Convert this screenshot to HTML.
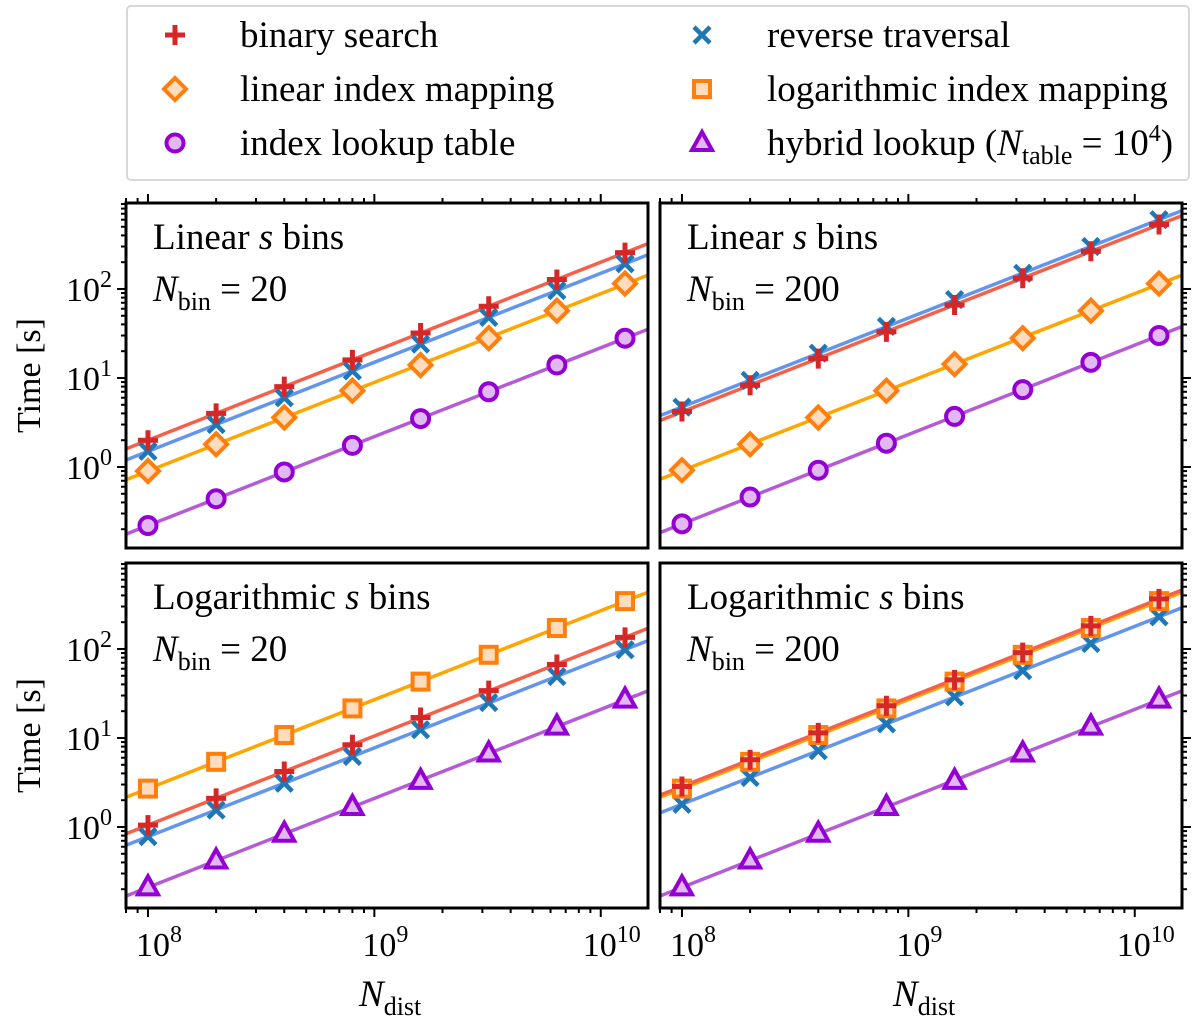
<!DOCTYPE html>
<html><head><meta charset="utf-8"><style>
html,body{margin:0;padding:0;background:#fff}
svg{display:block;font-family:"Liberation Serif",serif}
</style></head><body>
<svg id="chart" width="1200" height="1017" viewBox="0 0 1200 1017" xmlns="http://www.w3.org/2000/svg"></svg>
<script>
const xValues=[1e8,2e8,4e8,8e8,1.6e9,3.2e9,6.4e9,1.28e10];
// panel 1: linear 20
const p1Binary=[2.0,4.0,8.0,16,32,64,128,256];
const p1Reverse=[1.5,3.0,6.0,12,24,48,96,192];
const p1Linear=[0.9,1.8,3.6,7.2,14,28,57,115];
const p1Table=[0.22,0.44,0.88,1.75,3.5,7.0,14,28];
// panel 2: linear 200
const p2Binary=[4.2,8.3,16.5,33,66,132,265,530];
const p2Reverse=[4.7,9.4,19,38,76,150,300,600];
const p2Linear=[0.92,1.8,3.6,7.2,14.3,28,57,115];
const p2Table=[0.23,0.46,0.92,1.85,3.7,7.4,15,30];
// panel 3: log 20
const p3LogMap=[2.7,5.4,10.8,21.5,43,86,172,345];
const p3Binary=[1.05,2.1,4.2,8.4,17,34,67,135];
const p3Reverse=[0.78,1.55,3.1,6.2,12.4,25,49,98];
const p3Hybrid=[0.21,0.42,0.84,1.68,3.3,6.7,13.4,27];
// panel 4: log 200
const p4Binary=[2.85,5.7,11.4,23,45,91,182,365];
const p4LogMap=[2.7,5.4,10.8,21.5,43,86,172,345];
const p4Reverse=[1.8,3.6,7.2,14.4,29,57,115,230];
const p4Hybrid=[0.21,0.42,0.84,1.68,3.3,6.7,13.4,27];
const xTickVals=[1e8,1e9,1e10];
const xTickExp=["8","9","10"];
const yTickVals=[1,10,100];
const yTickExp=["0","1","2"];

const NS="http://www.w3.org/2000/svg";
const svg=document.getElementById('chart');
function mk(tag,attrs,parent){const e=document.createElementNS(NS,tag);for(const k in attrs)e.setAttribute(k,attrs[k]);(parent||svg).appendChild(e);return e;}

const S={
 binary:{line:"#f4604a",mc:"#d62728",m:"plus",fill:"none"},
 reverse:{line:"#6495ed",mc:"#1f77b4",m:"x",fill:"none"},
 linear:{line:"#ffa500",mc:"#ff7f0e",m:"diamond",fill:"#ffdcbc"},
 logmap:{line:"#ffa500",mc:"#ff7f0e",m:"square",fill:"#ffdcbc"},
 table:{line:"#b35cd6",mc:"#9400d3",m:"circle",fill:"#e2b8f2"},
 hybrid:{line:"#b35cd6",mc:"#9400d3",m:"triangle",fill:"#e2b8f2"}
};
function marker(g,type,cx,cy,st){
 const sw=4;
 if(type==="plus"){mk('path',{d:`M${cx-10},${cy}H${cx+10}M${cx},${cy-10}V${cy+10}`,stroke:st.mc,'stroke-width':5,fill:'none'},g);}
 else if(type==="x"){mk('path',{d:`M${cx-8},${cy-8}L${cx+8},${cy+8}M${cx-8},${cy+8}L${cx+8},${cy-8}`,stroke:st.mc,'stroke-width':4.5,fill:'none'},g);}
 else if(type==="diamond"){mk('path',{d:`M${cx},${cy-11}L${cx+11},${cy}L${cx},${cy+11}L${cx-11},${cy}Z`,stroke:st.mc,'stroke-width':sw,fill:st.fill},g);}
 else if(type==="square"){mk('rect',{x:cx-8,y:cy-8,width:16,height:16,stroke:st.mc,'stroke-width':sw,fill:st.fill},g);}
 else if(type==="circle"){mk('circle',{cx:cx,cy:cy,r:8.5,stroke:st.mc,'stroke-width':sw,fill:st.fill},g);}
 else if(type==="triangle"){mk('path',{d:`M${cx},${cy-11}L${cx+10},${cy+7}L${cx-10},${cy+7}Z`,stroke:st.mc,'stroke-width':sw,fill:st.fill,'stroke-linejoin':'miter'},g);}
}

const XL0=7.903, XL1=10.2087;
const YL0=-0.91, YL1=2.966;
const FS=37, SUB=26, TFS=34, SUP=24;
const panels=[
 {x:126,y:203,title:"Linear ",nb:"20",series:[["linear",p1Linear],["table",p1Table],["reverse",p1Reverse],["binary",p1Binary]],left:true,top:true,name:"linear-20"},
 {x:660,y:203,title:"Linear ",nb:"200",series:[["linear",p2Linear],["table",p2Table],["reverse",p2Reverse],["binary",p2Binary]],left:false,top:true,name:"linear-200"},
 {x:126,y:563,title:"Logarithmic ",nb:"20",series:[["logmap",p3LogMap],["hybrid",p3Hybrid],["reverse",p3Reverse],["binary",p3Binary]],left:true,top:false,name:"log-20"},
 {x:660,y:563,title:"Logarithmic ",nb:"200",series:[["reverse",p4Reverse],["hybrid",p4Hybrid],["logmap",p4LogMap],["binary",p4Binary]],left:false,top:false,name:"log-200"}
];
const W=522,H=345;
panels.forEach((p,pi)=>{
 const g=mk('g',{});
 
 
 const xs=v=>p.x+(Math.log10(v)-XL0)/(XL1-XL0)*W;
 const ys=v=>p.y+H-(Math.log10(v)-YL0)/(YL1-YL0)*H;
 const cid='clip'+pi;
 const cp=mk('clipPath',{id:cid},g);mk('rect',{x:p.x,y:p.y,width:W,height:H},cp);
 p.series.forEach(([key,vals])=>{
  const st=S[key];
  const lx=xValues.map(Math.log10), ly=vals.map(Math.log10);
  const n=lx.length, mx=lx.reduce((a,b)=>a+b)/n, my=ly.reduce((a,b)=>a+b)/n;
  let sxy=0,sxx=0;for(let i=0;i<n;i++){sxy+=(lx[i]-mx)*(ly[i]-my);sxx+=(lx[i]-mx)**2;}
  const b=sxy/sxx,a=my-b*mx;
  const f=l=>Math.pow(10,a+b*l);
  const ln=mk('line',{x1:p.x-5,y1:ys(f(XL0-5/W*(XL1-XL0))),x2:p.x+W+5,y2:ys(f(XL1+5/W*(XL1-XL0))),stroke:st.line,'stroke-width':3.5,'clip-path':`url(#${cid})`},g);
  
  
 });
 p.series.forEach(([key,vals])=>{
  const st=S[key];
  const mg=mk('g',{'clip-path':`url(#${cid})`},g);
  
  
  vals.forEach((v,i)=>marker(mg,st.m,xs(xValues[i]),ys(v),st));
 });
 mk('rect',{x:p.x,y:p.y,width:W,height:H,fill:'none',stroke:'#000','stroke-width':3},g);
 const tk=mk('g',{stroke:'#000','stroke-width':2},g);
 
 
 for(let d=7;d<=10;d++)for(let m=1;m<10;m++){
  const v=m*Math.pow(10,d);const l=Math.log10(v);if(l<XL0||l>XL1)continue;
  const x=xs(v),len=m===1?9:5;
  if(p.top)mk('line',{x1:x,x2:x,y1:p.y,y2:p.y-len},tk);else mk('line',{x1:x,x2:x,y1:p.y+H,y2:p.y+H+len},tk);
 }
 for(let d=-1;d<=2;d++)for(let m=1;m<10;m++){
  const v=m*Math.pow(10,d);const l=Math.log10(v);if(l<YL0||l>YL1)continue;
  const y=ys(v),len=m===1?9:5;
  if(p.left)mk('line',{x1:p.x,x2:p.x-len,y1:y,y2:y},tk);else mk('line',{x1:p.x+W,x2:p.x+W+len,y1:y,y2:y},tk);
 }
 if(p.left){yTickVals.forEach((v,i)=>{const t=mk('text',{x:p.x-14,y:ys(v)+12,'text-anchor':'end','font-size':TFS},g);
  
  t.innerHTML=`10<tspan dy="-14" font-size="${SUP}">${yTickExp[i]}</tspan>`;});
  const yt=mk('text',{x:0,y:0,transform:`translate(40,${p.y+H/2}) rotate(-90)`,'text-anchor':'middle','font-size':TFS},g);
  yt.textContent='Time [s]';}
 if(!p.top){xTickVals.forEach((v,i)=>{const t=mk('text',{x:xs(v)+11,y:p.y+H+48,'text-anchor':'middle','font-size':TFS},g);
  
  t.innerHTML=`10<tspan dy="-14" font-size="${SUP}">${xTickExp[i]}</tspan>`;});
  const xt=mk('text',{x:p.x+W/2-28,y:p.y+H+98,'font-size':FS},g);
  
  xt.innerHTML=`<tspan font-style="italic">N</tspan><tspan dy="9" font-size="${SUB}">dist</tspan>`;}
 const t1=mk('text',{x:p.x+27,y:p.y+46,'font-size':FS},g);
 
 t1.innerHTML=`${p.title}<tspan font-style="italic">s</tspan> bins`;
 const t2=mk('text',{x:p.x+27,y:p.y+98,'font-size':FS},g);
 
 t2.innerHTML=`<tspan font-style="italic">N</tspan><tspan dy="9" font-size="${SUB}">bin</tspan><tspan dy="-9"> = ${p.nb}</tspan>`;
});
const lg=mk('g',{});


mk('rect',{x:127,y:6,width:1062,height:174,rx:4,fill:'#fff',stroke:'#d8d8d8','stroke-width':2},lg);
const legItems=[["binary","binary search",175,35],["linear","linear index mapping",175,89],["table","index lookup table",175,143],
 ["reverse","reverse traversal",702,35],["logmap","logarithmic index mapping",702,89],["hybrid","",702,143]];
legItems.forEach(([k,label,mx,my])=>{
 const e=mk('g',{},lg);
 
 
 const st=S[k];
 marker(e,st.m,mx,my,st);
 const t=mk('text',{x:mx+65,y:my+12,'font-size':FS},e);
 if(label)t.textContent=label;
 else t.innerHTML=`hybrid lookup (<tspan font-style="italic">N</tspan><tspan dy="9" font-size="${SUB}">table</tspan><tspan dy="-9"> = 10</tspan><tspan dy="-14" font-size="${SUP}">4</tspan><tspan dy="14">)</tspan>`;
});
</script>
</body></html>
